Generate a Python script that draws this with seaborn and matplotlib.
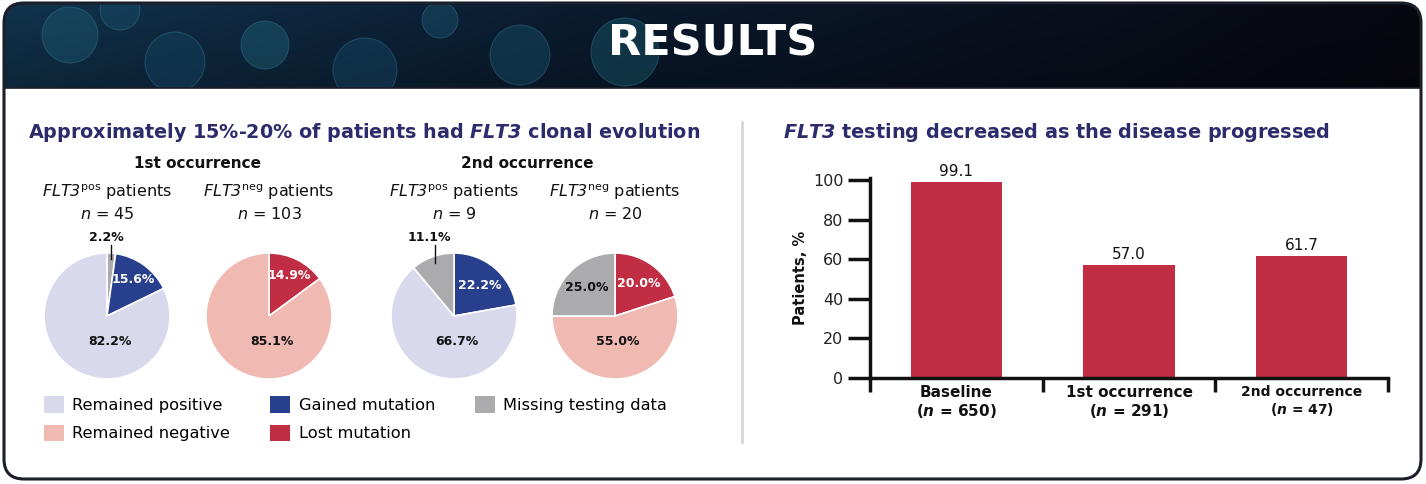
import matplotlib
matplotlib.use("Agg")
import numpy as np
import matplotlib.pyplot as plt
from matplotlib.patches import FancyBboxPatch, Rectangle, Circle, Patch
import seaborn as sns

# ---- data ----
occurrences = ["1st occurrence", "2nd occurrence"]
pie_groups = ["pos", "neg", "pos", "neg"]
pie_n = [45, 103, 9, 20]
pie_labels = [
    ["Missing testing data", "Gained mutation", "Remained positive"],
    ["Lost mutation", "Remained negative"],
    ["Gained mutation", "Remained positive", "Missing testing data"],
    ["Lost mutation", "Remained negative", "Missing testing data"],
]
pie_values = [
    [2.2, 15.6, 82.2],
    [14.9, 85.1],
    [22.2, 66.7, 11.1],
    [20.0, 55.0, 25.0],
]
legend_order = ["Remained positive", "Remained negative", "Gained mutation",
                "Lost mutation", "Missing testing data"]

bar_categories = ["Baseline", "1st occurrence", "2nd occurrence"]
bar_n = [650, 291, 47]
bar_values = [99.1, 57.0, 61.7]

# ---- style ----
colors = {
    "Remained positive": "#d9d9ee",
    "Remained negative": "#f0b9b2",
    "Gained mutation": "#283f8e",
    "Lost mutation": "#c12d42",
    "Missing testing data": "#abaaad",
}
white_text = {"Gained mutation", "Lost mutation"}
navy = "#2c2b6b"

plt.rcParams["font.family"] = ["DejaVu Sans"]
plt.rcParams["mathtext.fontset"] = "custom"
plt.rcParams["mathtext.rm"] = "DejaVu Sans:italic"
plt.rcParams["mathtext.it"] = "DejaVu Sans:italic"
plt.rcParams["mathtext.sf"] = "DejaVu Sans"
plt.rcParams["mathtext.bf"] = "DejaVu Sans:italic:bold"

W, H = 1426, 484
fig = plt.figure(figsize=(W / 100, H / 100), dpi=100)
fig.patch.set_facecolor("white")

# background axes in pixel coordinates
bg = fig.add_axes([0, 0, 1, 1])
bg.set_xlim(0, W)
bg.set_ylim(H, 0)
bg.axis("off")

outer = FancyBboxPatch((4, 3), 1417, 476, boxstyle="round,pad=0,rounding_size=20",
                       facecolor="white", edgecolor="none", zorder=0)
bg.add_patch(outer)

# header gradient
gx = np.linspace(0, 1, 500)
gy = np.linspace(0, 1, 60)
c_left = np.array([0.07, 0.20, 0.30])
c_mid = np.array([0.04, 0.10, 0.18])
c_right = np.array([0.03, 0.03, 0.06])
row = np.where(gx[:, None] < 0.45,
               c_left + (c_mid - c_left) * (gx[:, None] / 0.45),
               c_mid + (c_right - c_mid) * ((gx[:, None] - 0.45) / 0.55))
img = row[None, :, :] * (1.0 - 0.25 * gy[:, None, None])
im = bg.imshow(img, extent=[4, 1421, 88, 3], aspect="auto", zorder=1)
im.set_clip_path(outer)

blobs = [(70, 35, 28, "#1d5f78"), (175, 62, 30, "#174a6b"), (265, 45, 24, "#1f6a80"),
         (365, 70, 32, "#174b6c"), (520, 55, 30, "#1a5670"), (625, 52, 34, "#1b6273"),
         (120, 10, 20, "#1b5470"), (440, 20, 18, "#1c5a74")]
for bx, by, br, bc in blobs:
    c = Circle((bx, by), br, facecolor=bc, edgecolor="#3f8ea6", lw=0.6, alpha=0.4, zorder=2)
    bg.add_patch(c)
    c.set_clip_path(outer)

body = Rectangle((0, 88), W, H, facecolor="white", edgecolor="none", zorder=3)
bg.add_patch(body)
body.set_clip_path(outer)
bg.plot([4, 1421], [88, 88], color="#1b1e2b", lw=1.2, zorder=4)
bg.add_patch(FancyBboxPatch((4, 3), 1417, 476, boxstyle="round,pad=0,rounding_size=20",
                            facecolor="none", edgecolor="#1b1e2b", lw=2.2, zorder=5))
bg.text(713, 44, "RESULTS", color="white", fontsize=31, fontweight="bold",
        ha="center", va="center", zorder=6)

# divider
bg.plot([742, 742], [122, 442], color="#d6d6d6", lw=2, zorder=4)

# titles
bg.text(28, 138, r"Approximately 15%-20% of patients had $\mathbf{FLT3}$ clonal evolution",
        color=navy, fontsize=13.8, fontweight="bold", ha="left", va="baseline", zorder=6)
bg.text(783, 138, r"$\mathbf{FLT3}$ testing decreased as the disease progressed",
        color=navy, fontsize=13.9, fontweight="bold", ha="left", va="baseline", zorder=6)

for label, x in zip(occurrences, [198, 527]):
    bg.text(x, 168, label, fontsize=11, fontweight="bold", color="#111111",
            ha="center", va="baseline", zorder=6)

# ---- pies ----
pie_cx = [107, 269, 454, 615]
pie_cy, pie_r, pad = 316, 63, 1.04
for i in range(4):
    cx = pie_cx[i]
    bg.text(cx, 197, r"$FLT3^{\mathsf{%s}}$ patients" % pie_groups[i],
            fontsize=11.5, color="#111111", ha="center", va="baseline", zorder=6)
    bg.text(cx, 219, r"$n$ = %d" % pie_n[i],
            fontsize=11.5, color="#111111", ha="center", va="baseline", zorder=6)

    side = 2 * pie_r * pad
    ax = fig.add_axes([(cx - side / 2) / W, (H - pie_cy - side / 2) / H, side / W, side / H])
    vals = pie_values[i]
    labs = pie_labels[i]
    wedges, _ = ax.pie(vals, colors=[colors[l] for l in labs], startangle=90,
                       counterclock=False, radius=1,
                       wedgeprops=dict(edgecolor="white", linewidth=1.2))
    ax.set_xlim(-pad, pad)
    ax.set_ylim(-pad, pad)
    big = int(np.argmax(vals))
    for j, w in enumerate(wedges):
        mid = np.deg2rad((w.theta1 + w.theta2) / 2)
        txt = f"{vals[j]:.1f}%"
        tc = "white" if labs[j] in white_text else "#111111"
        if j == big:
            ax.text(0.05, -0.4, txt, ha="center", va="center", fontsize=9,
                    fontweight="bold", color=tc)
        elif vals[j] < 12:
            x0, y0 = 0.9 * np.cos(mid), 0.9 * np.sin(mid)
            ax.plot([x0, x0], [y0, 1.13], color="#111111", lw=1, clip_on=False)
            ax.text(x0 - 0.08, 1.15, txt, ha="center", va="bottom", fontsize=9,
                    fontweight="bold", color="#111111")
        else:
            r = 0.72 if vals[j] < 18 else 0.64
            ax.text(r * np.cos(mid), r * np.sin(mid), txt, ha="center", va="center",
                    fontsize=9, fontweight="bold", color=tc)

# legend
handles = [Patch(facecolor=colors[l], edgecolor="none", label=l) for l in legend_order]
bg.legend(handles=handles, ncol=3, loc="upper left", bbox_to_anchor=(44, 396),
          bbox_transform=bg.transData, frameon=False, borderaxespad=0, borderpad=0,
          fontsize=11.7, handlelength=1.25, handleheight=1.2, handletextpad=0.5,
          labelspacing=0.72, columnspacing=2.45)

# ---- bar chart ----
axb = fig.add_axes([870 / W, (H - 378) / H, (1388 - 870) / W, 200 / H])
axb.set_facecolor("none")
sns.barplot(x=bar_categories, y=bar_values, color=colors["Lost mutation"],
            saturation=1, width=0.53, ax=axb)
axb.bar_label(axb.containers[0], fmt="%.1f", padding=2, fontsize=11, color="#111111")
axb.set_xlim(-0.5, 2.5)
axb.set_ylim(0, 101)
axb.set_yticks(range(0, 101, 20))
axb.set_xticks(range(len(bar_categories)))
axb.set_xticklabels([f"{c}\n($\\mathbf{{n}}$ = {n})" for c, n in zip(bar_categories, bar_n)],
                    fontweight="bold", fontsize=11, linespacing=1.15)
axb.get_xticklabels()[2].set_fontsize(10)
axb.set_xticks([-0.5, 0.5, 1.5, 2.5], minor=True)
axb.tick_params(axis="x", which="major", length=0, pad=5, colors="#111111")
axb.tick_params(axis="x", which="minor", length=10, width=2.5, color="#111111")
axb.tick_params(axis="y", length=16, width=2.5, pad=3, labelsize=11.5,
                color="#111111", labelcolor="#222222")
for s in ["top", "right"]:
    axb.spines[s].set_visible(False)
for s in ["left", "bottom"]:
    axb.spines[s].set_linewidth(2.5)
    axb.spines[s].set_color("#111111")
axb.set_ylabel("Patients, %", fontweight="bold", fontsize=10.5, labelpad=4, color="#111111")
axb.set_xlabel("")

fig.savefig("out.png", dpi=100)
